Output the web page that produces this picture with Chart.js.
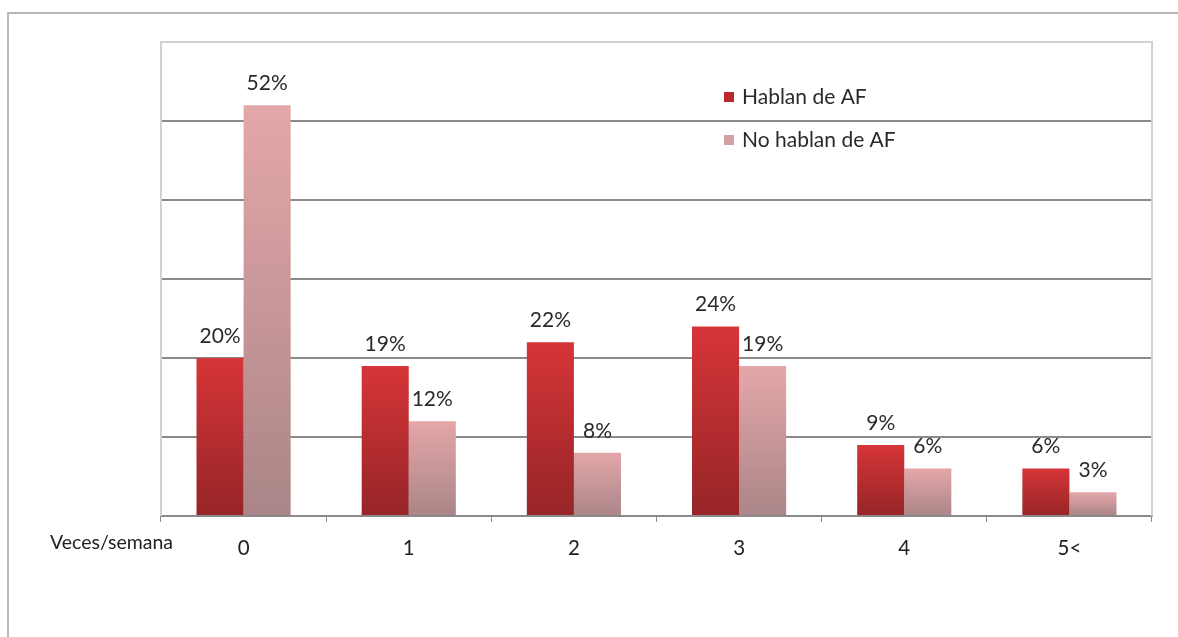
<!DOCTYPE html>
<html>
<head>
<meta charset="utf-8">
<script src="https://cdn.jsdelivr.net/npm/chart.js@4"></script>
<style>
  body { margin: 0; background: #fff; overflow: hidden; }
  #wrap { position: relative; width: 1178px; height: 637px; }
  #frame { position: absolute; left: 7px; top: 12px; width: 1300px; height: 700px;
           border-left: 2px solid #b8b8b8; border-top: 2px solid #b8b8b8; }
  canvas { position: absolute; left: 0; top: 0; }
</style>
</head>
<body>
<div id="wrap">
  <div id="frame"></div>
  <canvas id="chart" width="1178" height="637"></canvas>
</div>
<script>
const categories = ['0', '1', '2', '3', '4', '5<'];
const hablan = [20, 19, 22, 24, 9, 6];
const noHablan = [52, 12, 8, 19, 6, 3];
const seriesNames = ['Hablan de AF', 'No hablan de AF'];
const axisTitle = 'Veces/semana';

const FONT = 'Lato, "Open Sans", sans-serif';

// gradient for each bar, from its own top down to the axis
function barFill(top, bottom) {
  return function (c) {
    const area = c.chart.chartArea;
    if (!area || c.raw == null) return top;
    const yTop = c.chart.scales.y.getPixelForValue(c.raw);
    const g = c.chart.ctx.createLinearGradient(0, yTop, 0, area.bottom);
    g.addColorStop(0, top);
    g.addColorStop(1, bottom);
    return g;
  };
}

// percent labels above each bar
const valueLabels = {
  id: 'valueLabels',
  afterDatasetsDraw(chart) {
    const ctx = chart.ctx;
    ctx.save();
    ctx.font = '21px ' + FONT;
    ctx.fillStyle = '#2a2a2a';
    ctx.textAlign = 'center';
    ctx.textBaseline = 'middle';
    chart.data.datasets.forEach((ds, i) => {
      chart.getDatasetMeta(i).data.forEach((bar, j) => {
        ctx.fillText(ds.data[j] + '%', bar.x, bar.y - 22);
      });
    });
    ctx.restore();
  }
};

// light frame of the plot area + legend inside + axis caption
const extras = {
  id: 'extras',
  beforeDatasetsDraw(chart) {
    const { ctx, chartArea: a } = chart;
    ctx.save();
    ctx.strokeStyle = '#d2d2d2';
    ctx.lineWidth = 2;
    ctx.beginPath();
    ctx.moveTo(a.left, a.bottom);
    ctx.lineTo(a.left, a.top);
    ctx.lineTo(a.right, a.top);
    ctx.lineTo(a.right, a.bottom);
    ctx.stroke();
    ctx.restore();
  },
  afterDraw(chart) {
    const ctx = chart.ctx;
    ctx.save();
    ctx.font = '21px ' + FONT;
    ctx.textBaseline = 'middle';
    const swatch = ['#b8282c', '#d4a2a6'];
    chart.data.datasets.forEach((ds, i) => {
      const y = 97 + i * 43;
      ctx.fillStyle = swatch[i];
      ctx.fillRect(724, y - 5, 10, 10);
      ctx.fillStyle = '#2a2a2a';
      ctx.textAlign = 'left';
      ctx.fillText(ds.label, 742, y);
    });
    ctx.font = '19.5px ' + FONT;
    ctx.fillStyle = '#222';
    ctx.fillText(axisTitle, 50, 543);
    ctx.restore();
  }
};

new Chart(document.getElementById('chart'), {
  type: 'bar',
  data: {
    labels: categories,
    datasets: [
      { label: seriesNames[0], data: hablan, backgroundColor: barFill('#d63538', '#962527'), borderWidth: 0 },
      { label: seriesNames[1], data: noHablan, backgroundColor: barFill('#e4a7aa', '#aa8587'), borderWidth: 0 }
    ]
  },
  options: {
    responsive: false,
    animation: false,
    layout: { padding: { left: 161, top: 42, right: 26, bottom: 0 } },
    datasets: { bar: { categoryPercentage: 0.57, barPercentage: 1 } },
    plugins: { legend: { display: false }, tooltip: { enabled: false } },
    scales: {
      x: {
        grid: { drawOnChartArea: false, drawTicks: true, tickLength: 6, color: '#8a8a8a' },
        border: { color: '#8a8a8a', width: 2 },
        ticks: { color: '#222', font: { family: FONT, size: 20.5 }, padding: 14 },
        afterFit(scale) { scale.height = 121; }
      },
      y: {
        min: 0, max: 60,
        ticks: { stepSize: 10, display: false },
        grid: {
          drawTicks: false,
          lineWidth: 2,
          color: c => c.tick && c.tick.value === 60 ? '#d2d2d2' : (c.tick && c.tick.value === 0 ? 'rgba(0,0,0,0)' : '#8a8a8a')
        },
        border: { display: false },
        afterFit(scale) { scale.width = 0; }
      }
    }
  },
  plugins: [valueLabels, extras]
});
</script>
</body>
</html>
